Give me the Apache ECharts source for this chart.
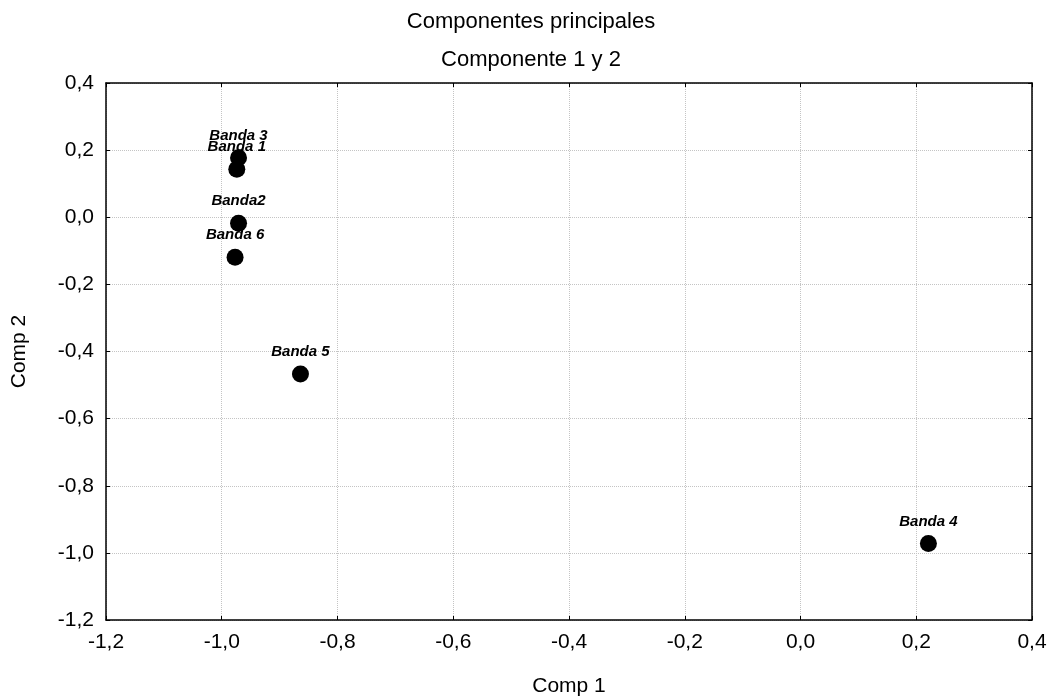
<!DOCTYPE html>
<html>
<head>
<meta charset="utf-8">
<script src="https://cdn.jsdelivr.net/npm/echarts@6/dist/echarts.min.js"></script>
<style>
  html, body { margin: 0; padding: 0; background: #fff; }
  #chart { width: 1052px; height: 700px; }
</style>
</head>
<body>
<div id="chart"></div>
<script>
// puntos
var bandNames = ['Banda 3', 'Banda 1', 'Banda2', 'Banda 6', 'Banda 5', 'Banda 4'];
var comp1 = [-0.971, -0.974, -0.971, -0.977, -0.864, 0.221];
var comp2 = [0.177, 0.143, -0.018, -0.119, -0.467, -0.972];

function fmt(v) {
    return v.toFixed(1).replace('.', ',');
}

var font = 'Liberation Sans, Arial, sans-serif';
var gridStyle = { color: '#c4c4c4', type: 'dotted', width: 1 };

var points = bandNames.map(function (name, i) {
    return { name: name, value: [comp1[i], comp2[i]] };
});

// eje principal con etiquetas, eje secundario solo con marcas
function makeAxis(name, position, gap, main) {
    return {
        type: 'value',
        position: position,
        min: -1.2,
        max: 0.4,
        interval: 0.2,
        name: main ? name : '',
        nameLocation: 'middle',
        nameGap: gap,
        nameTextStyle: { fontFamily: font, fontSize: 21, color: '#000' },
        axisLine: { show: true, onZero: false, lineStyle: { color: '#000', width: 1.5 } },
        axisTick: { show: true, inside: true, length: 4, lineStyle: { color: '#000', width: 1 } },
        axisLabel: {
            show: main,
            formatter: fmt,
            fontFamily: font,
            fontSize: 21,
            color: '#000',
            margin: 12
        },
        splitLine: { show: main, lineStyle: gridStyle }
    };
}

var option = {
    backgroundColor: '#fff',
    animation: false,
    title: [{
        text: 'Componentes principales',
        left: 526,
        top: 6,
        textAlign: 'center',
        textStyle: { fontFamily: font, fontSize: 22, fontWeight: 'normal', color: '#000' }
    }, {
        text: 'Componente 1 y 2',
        left: 526,
        top: 44,
        textAlign: 'center',
        textStyle: { fontFamily: font, fontSize: 22, fontWeight: 'normal', color: '#000' }
    }],
    grid: {
        left: 106,
        right: 20,
        top: 83,
        bottom: 80,
        containLabel: false,
        outerBoundsMode: 'none'
    },
    xAxis: [
        makeAxis('Comp 1', 'bottom', 56, true),
        makeAxis('', 'top', 0, false)
    ],
    yAxis: [
        makeAxis('Comp 2', 'left', 76, true),
        makeAxis('', 'right', 0, false)
    ],
    series: [{
        type: 'scatter',
        xAxisIndex: 0,
        yAxisIndex: 0,
        symbol: 'circle',
        symbolSize: 17,
        itemStyle: { color: '#000', opacity: 1 },
        label: {
            show: true,
            position: 'top',
            distance: 6,
            formatter: '{b}',
            fontFamily: font,
            fontSize: 15,
            fontWeight: 'bold',
            fontStyle: 'italic',
            color: '#000'
        },
        labelLayout: { hideOverlap: false },
        data: points
    }]
};

var myChart = echarts.init(document.getElementById('chart'));
myChart.setOption(option);
</script>
</body>
</html>
